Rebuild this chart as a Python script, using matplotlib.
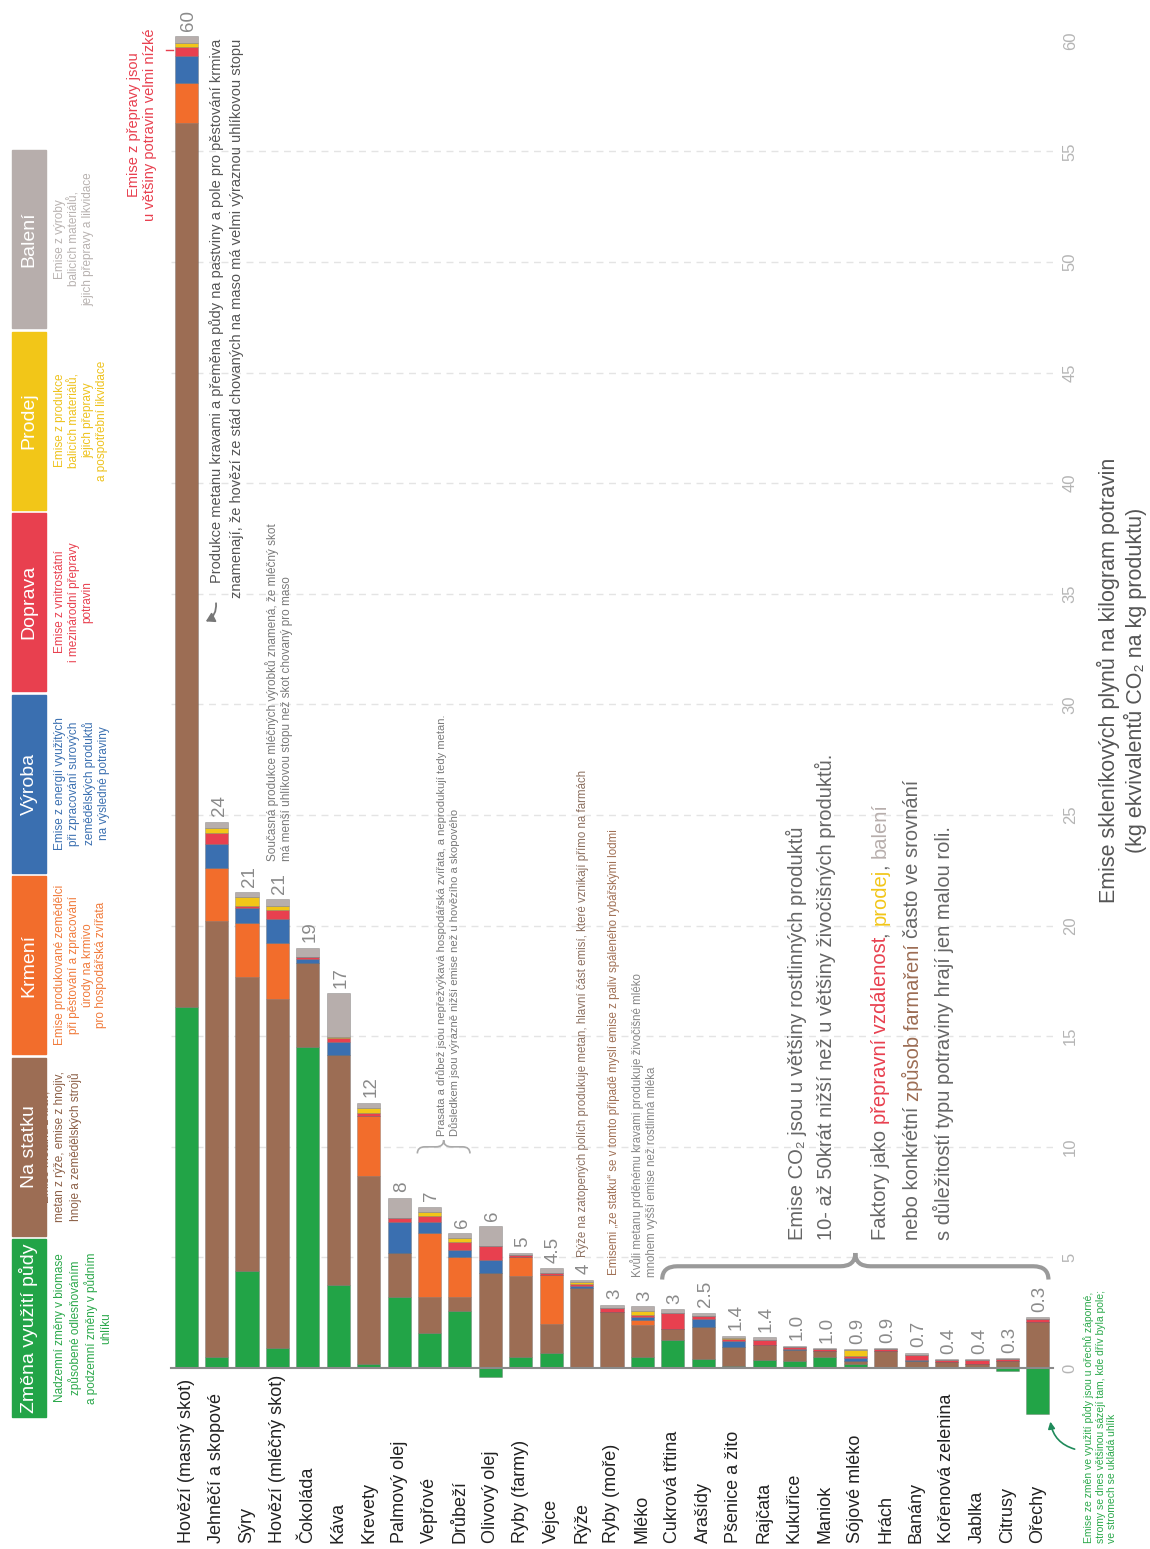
import numpy as np
import matplotlib.pyplot as plt
import matplotlib.transforms as mtransforms
from matplotlib.path import Path
from matplotlib.patches import PathPatch, Rectangle

plt.rcParams['font.family'] = ['Liberation Sans', 'DejaVu Sans']

# --- data (kg CO2 eq / kg produktu) ---
foods = ['Hovězí (masný skot)', 'Jehněčí a skopové', 'Sýry', 'Hovězí (mléčný skot)', 'Čokoláda',
         'Káva', 'Krevety', 'Palmový olej', 'Vepřové', 'Drůbeží', 'Olivový olej', 'Ryby (farmy)',
         'Vejce', 'Rýže', 'Ryby (moře)', 'Mléko', 'Cukrová třtina', 'Arašídy', 'Pšenice a žito',
         'Rajčata', 'Kukuřice', 'Maniok', 'Sójové mléko', 'Hrách', 'Banány', 'Kořenová zelenina',
         'Jablka', 'Citrusy', 'Ořechy']
land_use   = [16.3, 0.5, 4.4, 0.9, 14.5, 3.75, 0.2, 3.2, 1.6, 2.6, -0.4, 0.5, 0.7, 0.0, 0.0,
              0.5, 1.25, 0.4, 0.1, 0.35, 0.3, 0.5, 0.2, 0.0, 0.0, 0.0, 0.0, -0.15, -2.1]
farm       = [40.0, 19.7, 13.3, 15.8, 3.8, 10.4, 8.5, 2.0, 1.6, 0.6, 4.3, 3.65, 1.3, 3.6, 2.55,
              1.45, 0.5, 1.45, 0.85, 0.7, 0.5, 0.25, 0.1, 0.75, 0.3, 0.25, 0.2, 0.3, 2.1]
feed       = [1.8, 2.4, 2.4, 2.5, 0, 0, 2.7, 0, 2.9, 1.8, 0, 0.85, 2.2, 0, 0,
              0.2, 0, 0, 0, 0, 0, 0, 0, 0, 0, 0, 0, 0, 0]
processing = [1.2, 1.1, 0.7, 1.1, 0.2, 0.6, 0, 1.4, 0.5, 0.35, 0.6, 0, 0, 0.1, 0,
              0.15, 0, 0.35, 0.25, 0, 0.05, 0, 0.15, 0, 0.05, 0, 0, 0, 0]
transport  = [0.4, 0.5, 0.1, 0.4, 0.1, 0.15, 0.15, 0.2, 0.25, 0.35, 0.6, 0.1, 0.1, 0.1, 0.15,
              0.1, 0.75, 0.15, 0.1, 0.2, 0.1, 0.1, 0.1, 0.1, 0.25, 0.1, 0.15, 0.1, 0.1]
retail     = [0.2, 0.2, 0.4, 0.2, 0, 0.05, 0.2, 0, 0.2, 0.2, 0, 0, 0, 0.1, 0,
              0.2, 0, 0, 0.05, 0, 0, 0, 0.25, 0, 0, 0, 0, 0, 0]
packaging  = [0.3, 0.3, 0.2, 0.3, 0.4, 2.0, 0.25, 0.9, 0.25, 0.2, 0.9, 0.1, 0.2, 0.1, 0.15,
              0.2, 0.15, 0.15, 0.1, 0.15, 0.05, 0.05, 0.05, 0.05, 0.1, 0.05, 0.05, 0.05, 0.1]
total_labels = ['60', '24', '21', '21', '19', '17', '12', '8', '7', '6', '6', '5', '4.5', '4', '3',
                '3', '3', '2.5', '1.4', '1.4', '1.0', '1.0', '0.9', '0.9', '0.7', '0.4', '0.4', '0.3', '0.3']
value_ticks = list(range(0, 61, 5))

stage_names = ['Změna využití půdy', 'Na statku', 'Krmení', 'Výroba', 'Doprava', 'Prodej', 'Balení']
stage_colors = ['#22a447', '#9c6d54', '#f26d2c', '#3a6fb0', '#e8404f', '#f2c618', '#b7aeac']
stage_text_colors = ['#2aa84a', '#8b5e45', '#f07a3a', '#3a6fb0', '#e8404f', '#eec21c', '#b8b2b0']
stage_desc = ['Nadzemní změny v biomase\nzpůsobené odlesňováním\na podzemní změny v půdním\nuhlíku',
              'Emise metanu z krav,\nmetan z rýže, emise z hnojiv,\nhnoje a zemědělských strojů',
              'Emise produkované zemědělci\npři pěstování a zpracování\núrody na krmivo\npro hospodářská zvířata',
              'Emise z energií využitých\npři zpracování surových\nzemědělských produktů\nna výsledné potraviny',
              'Emise z vnitrostátní\ni mezinárodní přepravy\npotravin',
              'Emise z produkce\nbalicích materiálů,\njejich přepravy\na pospotřební likvidace',
              'Emise z výroby\nbalicích materiálů,\njejich přepravy a likvidace']

fig = plt.figure(figsize=(11.5, 15.49), dpi=100)
ax = fig.add_axes([171 / 1150, 0.1097, 882 / 1150, 0.8782])

x = np.arange(len(foods))
pos_base = np.zeros(len(foods))
neg_base = np.zeros(len(foods))
stages = [land_use, farm, feed, processing, transport, retail, packaging]
for vals, col in zip(stages, stage_colors):
    v = np.array(vals, dtype=float)
    bottom = np.where(v >= 0, pos_base, neg_base)
    ax.bar(x, v, 0.76, bottom=bottom, color=col, edgecolor=(0.35, 0.35, 0.35, 0.35),
           linewidth=0.6, clip_on=False, zorder=3)
    pos_base += np.clip(v, 0, None)
    neg_base += np.clip(v, None, 0)

for i, lab in enumerate(total_labels):
    ax.text(i + 0.08, pos_base[i] + 0.25, lab, rotation=90, ha='center', va='bottom',
            fontsize=13.5, color='#8a8a8a')

ax.set_xlim(-0.5, len(foods) - 0.5)
ax.set_ylim(-0.5, 61)
ax.set_xticks(x)
ax.tick_params(axis='x', length=0, labelbottom=False)
# category names start at a common line near the bottom edge
lab_tr = mtransforms.blended_transform_factory(ax.transData, fig.transFigure)
for i, name in enumerate(foods):
    ax.text(i, 1 - 1543 / 1549, name, transform=lab_tr, rotation=90, ha='center', va='bottom',
            fontsize=13, color='#222222')

ax.yaxis.tick_right()
ax.set_yticks(value_ticks)
ax.set_yticklabels([str(t) for t in value_ticks], rotation=90, va='center', ha='left',
                   color='#b5b5b5', fontsize=12)
ax.tick_params(axis='y', length=0, pad=7)
for s in ax.spines.values():
    s.set_visible(False)
for t in value_ticks[1:-1]:
    ax.axhline(t, color='#e4e4e4', ls=(0, (5, 4)), lw=1, zorder=0)
ax.axhline(0, color='#8a8a8a', lw=1.5, zorder=4, clip_on=False)


def brace(x0, x1, y, h, r, **kw):
    xm = (x0 + x1) / 2
    m = y + h / 2
    verts = [(x0, y), (x0, m), (x0 + r, m), (xm - r, m), (xm, m), (xm, y + h),
             (xm, y + h), (xm, m), (xm + r, m), (x1 - r, m), (x1, m), (x1, y)]
    codes = [Path.MOVETO, Path.CURVE3, Path.CURVE3, Path.LINETO, Path.CURVE3, Path.CURVE3,
             Path.MOVETO, Path.CURVE3, Path.CURVE3, Path.LINETO, Path.CURVE3, Path.CURVE3]
    ax.add_patch(PathPatch(Path(verts, codes), fill=False, clip_on=False, **kw))


def color_line(xc, y0, pieces, fs):
    t = None
    prev = ''
    for s, c in pieces:
        gap = 0.28 * fs if (s.startswith(' ') or prev.endswith(' ')) else 0
        if t is None:
            t = ax.text(xc, y0, s.strip(), color=c, rotation=90, ha='center', va='bottom', fontsize=fs)
        else:
            t = ax.annotate(s.strip(), xy=(0.5, 1), xycoords=t, xytext=(0, gap),
                            textcoords='offset points', color=c, rotation=90,
                            ha='center', va='bottom', fontsize=fs)
        prev = s


# --- annotations ---
ax.text(1.33, 34.8, 'Produkce metanu kravami a přeměna půdy na pastviny a pole pro pěstování krmiva\n'
        'znamenají, že hovězí ze stád chovaných na maso má velmi výraznou uhlíkovou stopu',
        rotation=90, ha='center', va='bottom', multialignment='right', fontsize=10.5,
        color='#555555', linespacing=1.5)
ax.annotate('', xy=(0.56, 33.7), xytext=(0.97, 34.7),
            arrowprops=dict(arrowstyle='-|>,head_length=0.5,head_width=0.3',
                            connectionstyle='arc3,rad=-0.4', color='#777777', lw=1.3))

ax.text(-1.45, 56.2, 'Emise z přepravy jsou\nu většiny potravin velmi nízké', rotation=90,
        ha='center', va='center', multialignment='center', fontsize=10.5, color='#e8404f')
ax.plot([-0.68, -0.45], [59.6, 59.6], color='#e8404f', lw=1, clip_on=False)

ax.text(3.05, 22.9, 'Současná produkce mléčných výrobků znamená, že mléčný skot\n'
        'má menší uhlíkovou stopu než skot chovaný pro maso', rotation=90, ha='center',
        va='bottom', multialignment='left', fontsize=8.5, color='#7a7a7a')

brace(7.6, 9.33, 9.7, 0.6, 0.25, color='#aaaaaa', lw=1.2)
ax.text(8.6, 10.5, 'Prasata a drůbež jsou nepřežvýkavá hospodářská zvířata, a neprodukují tedy metan.\n'
        'Důsledkem jsou výrazně nižší emise než u hovězího a skopového', rotation=90,
        ha='center', va='bottom', multialignment='left', fontsize=8, color='#7a7a7a')

ax.text(13.05, 5.0, 'Rýže na zatopených polích produkuje metan, hlavní část emisí, které vznikají přímo na farmách',
        rotation=90, ha='center', va='bottom', fontsize=8.3, color='#8c7060')
ax.text(14.05, 4.2, 'Emisemi „ze statku“ se v tomto případě myslí emise z paliv spáleného rybářskými lodmi',
        rotation=90, ha='center', va='bottom', fontsize=8.3, color='#a07055')
ax.text(15.05, 4.1, 'Kvůli metanu prděnému kravami produkuje živočišné mléko\n'
        'mnohem vyšší emise než rostlinná mléka', rotation=90, ha='center', va='bottom',
        multialignment='left', fontsize=8.3, color='#888888')

brace(15.65, 28.35, 4.0, 1.2, 0.5, color='#9a9a9a', lw=3)
ax.text(20.55, 5.8, 'Emise CO₂ jsou u většiny rostlinných produktů\n'
        '10- až 50krát nižší než u většiny živočišných produktů.', rotation=90, ha='center',
        va='bottom', multialignment='left', fontsize=14.5, color='#666666', linespacing=1.45)

fs_f = 14.5
color_line(22.82, 5.8, [('Faktory jako ', '#666666'), ('přepravní vzdálenost', '#e8404f'),
                        (', ', '#666666'), ('prodej', '#f2c618'), (', ', '#666666'),
                        ('balení', '#b7aeac')], fs_f)
color_line(23.87, 5.8, [('nebo konkrétní ', '#666666'), ('způsob farmaření', '#9c6d54'),
                        (' často ve srovnání', '#666666')], fs_f)
color_line(24.9, 5.8, [('s důležitostí typu potraviny hrají jen malou roli.', '#666666')], fs_f)

ax.text(30.06, -7.9, 'Emise ze změn ve využití půdy jsou u ořechů záporné,\n'
        'stromy se dnes většinou sázejí tam, kde dřív byla pole;\nve stromech se ukládá uhlík',
        rotation=90, ha='center', va='bottom', multialignment='left', fontsize=7.5, color='#2aa84a')
ax.annotate('', xy=(28.4, -2.3), xytext=(29.3, -3.7),
            arrowprops=dict(arrowstyle='-|>', connectionstyle='arc3,rad=-0.35', color='#1f8a5a', lw=1.2),
            annotation_clip=False)

fig.text(1122 / 1150, 1 - 680 / 1549, 'Emise skleníkových plynů na kilogram potravin\n'
         '(kg ekvivalentů CO₂ na kg produktu)', rotation=90, ha='center', va='center',
         multialignment='center', fontsize=15.5, color='#555555', linespacing=1.2)

# --- legend (pixel coordinates) ---
ov = fig.add_axes([0, 0, 1, 1])
ov.set_xlim(0, 1150)
ov.set_ylim(1549, 0)
ov.axis('off')
for k in range(7):
    j = 6 - k
    top = 150 + k * 181.5
    ov.add_patch(Rectangle((12, top), 34, 178, color=stage_colors[j], zorder=3))
    ov.text(29, top + 89, stage_names[j], rotation=90, ha='center', va='center',
            color='white', fontsize=14, zorder=4)
    dx = 40 if j == 1 else 54
    ov.text(dx, top + 89, stage_desc[j], rotation=90, ha='left', va='center',
            multialignment='center', fontsize=8.5, color=stage_text_colors[j], zorder=2)

fig.savefig('out.png', dpi=100)
